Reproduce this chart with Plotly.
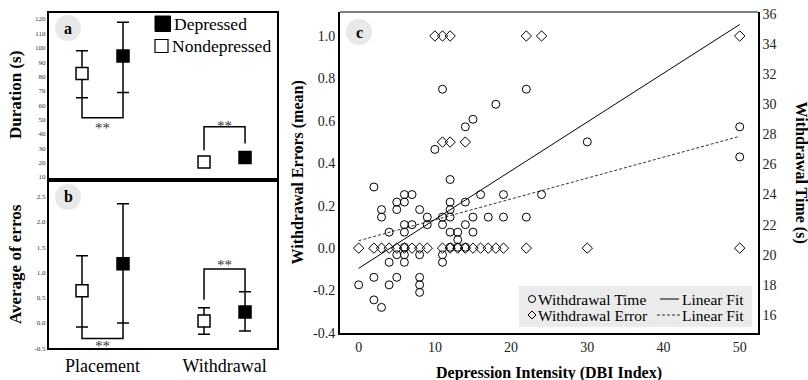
import plotly.graph_objects as go

W, H = 808, 380
FONT = "Liberation Serif, Times New Roman, serif"

# ---------------- Panels a / b data ----------------
groups = ["Placement", "Withdrawal"]
grp_offset = 0.168
dur_nondep = [82.1, 20.5]
dur_nondep_up = [15.8, 1.5]
dur_nondep_dn = [17.0, 1.5]
dur_dep = [94.2, 23.5]
dur_dep_up = [23.5, 1.5]
dur_dep_dn = [25.3, 1.5]

err_nondep = [0.64, 0.04]
err_nondep_up = [0.69, 0.26]
err_nondep_dn = [0.72, 0.26]
err_dep = [1.17, 0.22]
err_dep_up = [1.19, 0.40]
err_dep_dn = [1.17, 0.38]

# significance brackets: (level, foot nondep, foot dep)
brk_a = [(51.2, 65.1, 68.9), (44.9, 28.6, 33.3)]
brk_b = [(-0.307, -0.078, 0.0), (1.07, 0.46, 0.62)]

a_ticks = [10, 20, 30, 40, 50, 60, 70, 80, 90, 100, 110, 120]
b_ticks = [-0.5, 0.0, 0.5, 1.0, 1.5, 2.0, 2.5]
b_ticktext = ["-0.5", "0.0", "0.5", "1.0", "1.5", "2.0", "2.5"]

# ---------------- Panel c data ----------------
time_x = [0, 2, 2, 2, 3, 3, 3, 4, 4, 4, 5, 5, 5, 5, 6, 6, 6, 6, 6, 6, 6, 7, 7,
          8, 8, 8, 8, 8, 9, 9, 10, 11, 11, 11, 11, 11, 12, 12, 12, 12, 12, 12,
          13, 13, 13, 14, 14, 14, 14, 15, 15, 15, 16, 17, 18, 19, 19, 22, 22,
          24, 30, 50, 50]
time_s = [18.0, 24.5, 18.5, 17.0, 16.5, 23.0, 22.5, 21.5, 19.5, 18.0, 23.5,
          23.0, 20.0, 18.5, 24.0, 23.5, 22.0, 21.5, 20.5, 20.0, 19.5, 24.0,
          22.0, 23.0, 20.0, 18.5, 18.0, 17.5, 22.5, 22.0, 27.0, 31.0, 22.5,
          22.0, 20.0, 19.5, 25.0, 23.5, 23.0, 22.5, 21.5, 20.5, 21.5, 21.0,
          20.5, 28.5, 23.5, 22.0, 20.5, 29.0, 22.5, 21.5, 24.0, 22.5, 30.0,
          24.0, 22.5, 31.0, 22.5, 24.0, 27.5, 28.5, 26.5]
err_x = [0, 2, 3, 4, 5, 6, 7, 8, 9, 11, 12, 13, 14, 15, 16, 17, 18, 19, 22, 30,
         50, 11, 12, 14, 10, 11, 12, 22, 24, 50]
err_v = [0.0] * 21 + [0.5] * 3 + [1.0] * 6
fit_x = [0, 50]
fit_time = [19.1, 35.3]
fit_err = [0.035, 0.527]

c_xticks = [0, 10, 20, 30, 40, 50]
c_yticks = [-0.4, -0.2, 0.0, 0.2, 0.4, 0.6, 0.8, 1.0]
c_yticktext = ["-0.4", "-0.2", "0.0", "0.2", "0.4", "0.6", "0.8", "1.0"]
c_y2ticks = [16, 18, 20, 22, 24, 26, 28, 30, 32, 34, 36]

legend_a_labels = ["Depressed", "Nondepressed"]
legend_c_labels = [["Withdrawal Time", "Linear Fit"], ["Withdrawal Error", "Linear Fit"]]


def px(p):
    return p / W


def py(p):
    return 1 - p / H


fig = go.Figure()

xn = [i - grp_offset for i in range(len(groups))]
xd = [i + grp_offset for i in range(len(groups))]


def err(up, dn):
    return dict(type="data", array=up, arrayminus=dn, color="black", thickness=1.5, width=6)


open_sq = dict(symbol="square", size=12, color="white", line=dict(color="black", width=1.5))
full_sq = dict(symbol="square", size=12, color="black", line=dict(color="black", width=1.5))

# ---- panel a ----
fig.add_trace(go.Scatter(x=xn, y=dur_nondep, mode="markers", xaxis="x", yaxis="y",
                         marker=open_sq, error_y=err(dur_nondep_up, dur_nondep_dn),
                         name="Nondepressed"))
fig.add_trace(go.Scatter(x=xd, y=dur_dep, mode="markers", xaxis="x", yaxis="y",
                         marker=full_sq, error_y=err(dur_dep_up, dur_dep_dn),
                         name="Depressed"))
# ---- panel b ----
fig.add_trace(go.Scatter(x=xn, y=err_nondep, mode="markers", xaxis="x2", yaxis="y2",
                         marker=open_sq, error_y=err(err_nondep_up, err_nondep_dn),
                         name="Nondepressed"))
fig.add_trace(go.Scatter(x=xd, y=err_dep, mode="markers", xaxis="x2", yaxis="y2",
                         marker=full_sq, error_y=err(err_dep_up, err_dep_dn),
                         name="Depressed"))

# brackets
for brks, xa, ya in [(brk_a, "x", "y"), (brk_b, "x2", "y2")]:
    for i, (lvl, fn, fd) in enumerate(brks):
        fig.add_trace(go.Scatter(x=[xn[i], xn[i], xd[i], xd[i]], y=[fn, lvl, lvl, fd],
                                 mode="lines", xaxis=xa, yaxis=ya,
                                 line=dict(color="black", width=1.5), hoverinfo="skip"))

# ---- panel c ----
fig.add_trace(go.Scatter(x=time_x, y=time_s, mode="markers", name="Withdrawal Time",
                         xaxis="x3", yaxis="y4",
                         marker=dict(symbol="circle-open", size=8, color="black",
                                     line=dict(width=1))))
fig.add_trace(go.Scatter(x=err_x, y=err_v, mode="markers", name="Withdrawal Error",
                         xaxis="x3", yaxis="y3",
                         marker=dict(symbol="diamond-open", size=8, color="black",
                                     line=dict(width=1))))
fig.add_trace(go.Scatter(x=fit_x, y=fit_time, mode="lines", name="Linear Fit",
                         xaxis="x3", yaxis="y4", line=dict(color="black", width=1)))
fig.add_trace(go.Scatter(x=fit_x, y=fit_err, mode="lines", name="Linear Fit",
                         xaxis="x3", yaxis="y3",
                         line=dict(color="#333", width=1, dash="3px,2px")))

tickfont_small = dict(family=FONT, size=7, color="#333")
tickfont_c = dict(family=FONT, size=14, color="#222")

common = dict(showgrid=False, zeroline=False, showline=True, linecolor="black", ticks="",
              automargin=False)

fig.update_layout(
    template="none",
    width=W, height=H, margin=dict(l=0, r=0, t=0, b=0, autoexpand=False),
    paper_bgcolor="white", plot_bgcolor="white", showlegend=False,
    font=dict(family=FONT, color="black"),
    xaxis=dict(domain=[px(49), px(277)], range=[-0.4385, 1.43], showticklabels=False,
               linewidth=2, mirror=True, anchor="y", **common),
    yaxis=dict(domain=[py(177.7), py(13)], range=[9.5, 124.2], tickvals=a_ticks,
               tickfont=tickfont_small, linewidth=2, mirror=True, anchor="x", **common),
    xaxis2=dict(domain=[px(49), px(277)], range=[-0.4385, 1.43], anchor="y2",
                tickvals=[0, 1], ticktext=groups, tickfont=dict(family=FONT, size=18),
                linewidth=2, mirror=True, **common),
    yaxis2=dict(domain=[py(348.3), py(181.7)], range=[-0.5, 2.795], anchor="x2",
                tickvals=b_ticks, ticktext=b_ticktext, tickfont=tickfont_small,
                linewidth=2, mirror=True, **common),
    xaxis3=dict(domain=[px(340), px(758)], range=[-2.45, 52.4], anchor="y3",
                tickvals=c_xticks, tickfont=tickfont_c, linewidth=2, **common),
    yaxis3=dict(domain=[py(333), py(12)], range=[-0.4, 1.113], anchor="x3",
                tickvals=c_yticks, ticktext=c_yticktext, tickfont=tickfont_c,
                linewidth=2, **common),
    yaxis4=dict(overlaying="y3", side="right", anchor="x3", range=[14.8, 36.13],
                tickvals=c_y2ticks, tickfont=tickfont_c, linewidth=1.5, **common),
)

shapes = []
# top border of panel c
shapes.append(dict(type="line", xref="paper", yref="paper", x0=px(340), x1=px(758),
                   y0=py(12), y1=py(12), line=dict(color="black", width=1)))
# panel label circles
for cx, cy in [(68, 28), (68, 197), (359, 32)]:
    shapes.append(dict(type="circle", xref="paper", yref="paper", layer="below",
                       x0=px(cx - 13), x1=px(cx + 13), y0=py(cy + 13), y1=py(cy - 13),
                       fillcolor="#e8e8e8", line=dict(width=0)))
# legend a symbols
shapes.append(dict(type="rect", xref="paper", yref="paper", x0=px(155), x1=px(170.5),
                   y0=py(31.5), y1=py(16), fillcolor="black", line=dict(color="black", width=1)))
shapes.append(dict(type="rect", xref="paper", yref="paper", x0=px(155), x1=px(168),
                   y0=py(52.5), y1=py(39.5), fillcolor="white", line=dict(color="black", width=1.2)))
# legend c box and symbols
shapes.append(dict(type="rect", xref="paper", yref="paper", layer="below",
                   x0=px(519), x1=px(752), y0=py(327), y1=py(286),
                   fillcolor="#ebebeb", line=dict(width=0)))
shapes.append(dict(type="circle", xref="paper", yref="paper", x0=px(528.5), x1=px(535.5),
                   y0=py(302.5), y1=py(295.5), line=dict(color="black", width=1)))
dcx, dcy, dr = 532, 315, 4
shapes.append(dict(type="path", xref="paper", yref="paper",
                   path=(f"M {px(dcx)},{py(dcy - dr)} L {px(dcx + dr)},{py(dcy)} "
                         f"L {px(dcx)},{py(dcy + dr)} L {px(dcx - dr)},{py(dcy)} Z"),
                   line=dict(color="black", width=1)))
shapes.append(dict(type="line", xref="paper", yref="paper", x0=px(660), x1=px(679),
                   y0=py(299), y1=py(299), line=dict(color="black", width=1)))
shapes.append(dict(type="line", xref="paper", yref="paper", x0=px(657), x1=px(680),
                   y0=py(315), y1=py(315), line=dict(color="#333", width=1, dash="3px,2px")))
fig.update_layout(shapes=shapes)

ann = []


def text(t, x, y, size, xanchor="center", yanchor="middle", angle=0, color="black"):
    ann.append(dict(text=t, x=px(x), y=py(y), xref="paper", yref="paper", showarrow=False,
                    xanchor=xanchor, yanchor=yanchor, textangle=angle,
                    font=dict(family=FONT, size=size, color=color)))


for lbl, cx, cy in [("a", 68, 28), ("b", 68, 197), ("c", 359, 32)]:
    text(f"<b>{lbl}</b>", cx, cy, 16)

# legend texts
text(legend_a_labels[0], 172, 24, 17.5, xanchor="left")
text(legend_a_labels[1], 170, 46, 17.5, xanchor="left")
text(legend_c_labels[0][0], 536, 299, 15.5, xanchor="left")
text(legend_c_labels[0][1], 680, 299, 15.5, xanchor="left")
text(legend_c_labels[1][0], 536, 315, 15.5, xanchor="left")
text(legend_c_labels[1][1], 680, 315, 15.5, xanchor="left")

# stars
star_font = dict(family=FONT, size=15, color="#333")
ann.append(dict(text="**", x=0, y=brk_a[0][0], xref="x", yref="y", yanchor="top",
                showarrow=False, font=star_font, yshift=0))
ann.append(dict(text="**", x=1, y=brk_a[1][0], xref="x", yref="y", yanchor="bottom",
                showarrow=False, font=star_font, yshift=-9))
ann.append(dict(text="**", x=0, y=brk_b[0][0], xref="x2", yref="y2", yanchor="top",
                showarrow=False, font=star_font, yshift=3))
ann.append(dict(text="**", x=1, y=brk_b[1][0], xref="x2", yref="y2", yanchor="bottom",
                showarrow=False, font=star_font, yshift=-6))

# axis titles
text("<b>Duration (s)</b>", 15, 95, 17, angle=-90)
text("<b>Average of erros</b>", 15, 264, 17, angle=-90)
text("<b>Withdrawal Errors (mean)</b>", 297, 172.5, 16, angle=-90)
text("<b>Withdrawal Time (s)</b>", 801, 172.5, 16, angle=90)
text("<b>Depression Intensity (DBI Index)</b>", 549, 373, 16)
fig.update_layout(annotations=ann)

fig.write_html("out.html", config={"displayModeBar": False},
               post_script="document.body.style.margin='0';document.body.style.overflow='hidden';")
